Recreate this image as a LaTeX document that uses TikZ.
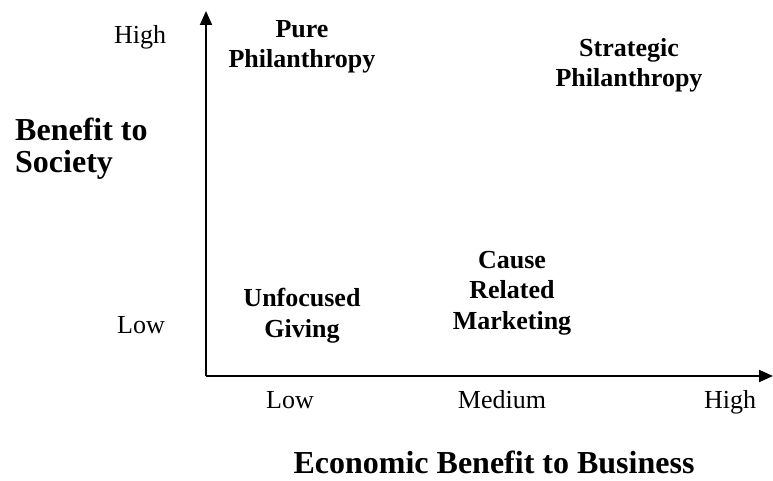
\documentclass[tikz,border=0pt]{standalone}
\usepackage{fontspec}
\setmainfont{Liberation Serif}
\usetikzlibrary{arrows.meta}
\begin{document}
\begin{tikzpicture}[x=1pt,y=-1pt,
  lbl/.style={font=\fontsize{26}{30}\selectfont, inner sep=0pt, anchor=base},
  quad/.style={font=\fontsize{26}{30.5}\selectfont\bfseries, align=center, inner sep=0pt},
  ttl/.style={font=\fontsize{32}{32}\selectfont\bfseries, inner sep=0pt},
  axis/.style={line width=2pt, -{Triangle[width=12pt,length=14pt]}}]
\useasboundingbox (0,0) rectangle (773,481);
\coordinate (O) at (206,376);
\coordinate (Ytop) at (206,11);
\coordinate (Xend) at (773,376);
\draw[axis] (O) -- (Ytop);
\draw[axis] (O) -- (Xend);
% y-axis labels
\node[lbl] (yhigh) at (140,44) {High};
\node[lbl] (ylow) at (141,333) {Low};
% x-axis labels
\node[lbl] (xlow) at (290,408) {Low};
\node[lbl] (xmed) at (502,408) {Medium};
\node[lbl] (xhigh) at (730,408) {High};
% quadrant texts
\node[quad, anchor=base] (pure) at (302,68) {Pure\\Philanthropy};
\node[quad, anchor=base] (strat) at (629,87) {Strategic\\Philanthropy};
\node[quad, anchor=base] (unf) at (302,337) {Unfocused\\Giving};
\node[quad, anchor=base] (crm) at (512,329) {Cause\\Related\\Marketing};
% axis titles
\node[ttl, anchor=base west, align=left] (ytitle) at (15,172) {Benefit to\\Society};
\node[ttl, anchor=base] (xtitle) at (494,473) {Economic Benefit to Business};
\end{tikzpicture}
\end{document}
